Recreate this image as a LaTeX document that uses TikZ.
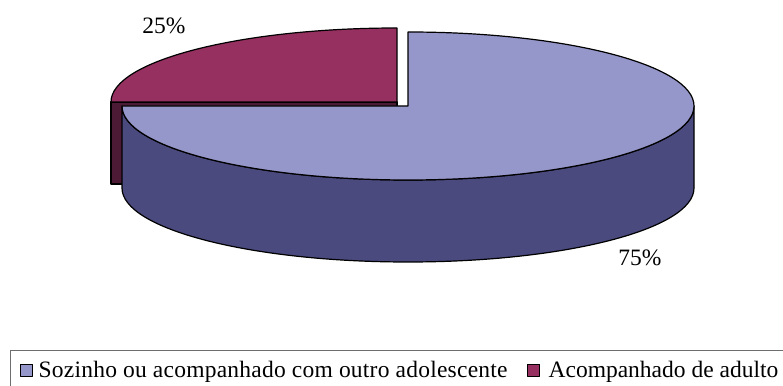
\documentclass[tikz,border=0pt]{standalone}
\usepackage{fontspec}
\setmainfont{Liberation Serif}
\definecolor{sozTop}{RGB}{149,150,201}
\definecolor{sozSide}{RGB}{74,74,126}
\definecolor{adTop}{RGB}{150,48,96}
\definecolor{adSide}{RGB}{76,26,52}
\definecolor{legLine}{RGB}{110,110,110}
\begin{document}
\begin{tikzpicture}[x=1pt,y=1pt,line join=round,line cap=round,line width=1.2pt,font=\fontsize{23.5}{28}\selectfont]
		\useasboundingbox (0,0) rectangle (783,385);
		%%%%%%%%%%%%%%%
		\coordinate (adC) at (397,283);
		\draw[fill=adSide] (111,283) rectangle (397,201);
		\draw[fill=adTop] (adC) -- ++(0,74) arc[start angle=90,end angle=180,x radius=286,y radius=74] -- cycle;
		%%%%%%%%%%%%%%%
		\coordinate (sozC) at (408,279);
		\draw[fill=sozSide] (122,279) -- (122,197) arc[start angle=180,end angle=360,x radius=286,y radius=74]
		-- (694,279) arc[start angle=0,end angle=-180,x radius=286,y radius=74] -- cycle;
		\draw[fill=sozTop] (sozC) -- ++(0,74) arc[start angle=90,end angle=-180,x radius=286,y radius=74] -- cycle;
		%%%%%%%%%%%%%%%
		\node[anchor=base] (pctAd) at (164,351) {25\%};
		\node[anchor=base] (pctSoz) at (640,119) {75\%};
		%%%%%%%%%%%%%%%
		\draw[legLine,line width=1pt] (10,-5) -- (10,35) -- (790,35);
		\node[draw,line width=0.8pt,fill=sozTop,minimum size=12pt,inner sep=0pt] (sozKey) at (26.5,15) {};
		\node[anchor=base west,inner sep=0pt] (sozTxt) at (38,8) {\addfontfeatures{LetterSpace=1.0}Sozinho ou acompanhado com outro adolescente};
		\node[draw,line width=0.8pt,fill=adTop,minimum size=12pt,inner sep=0pt] (adKey) at (533.5,15) {};
		\node[anchor=base west,inner sep=0pt] (adTxt) at (548,8) {Acompanhado de adulto};
		\end{tikzpicture}
\end{document}
